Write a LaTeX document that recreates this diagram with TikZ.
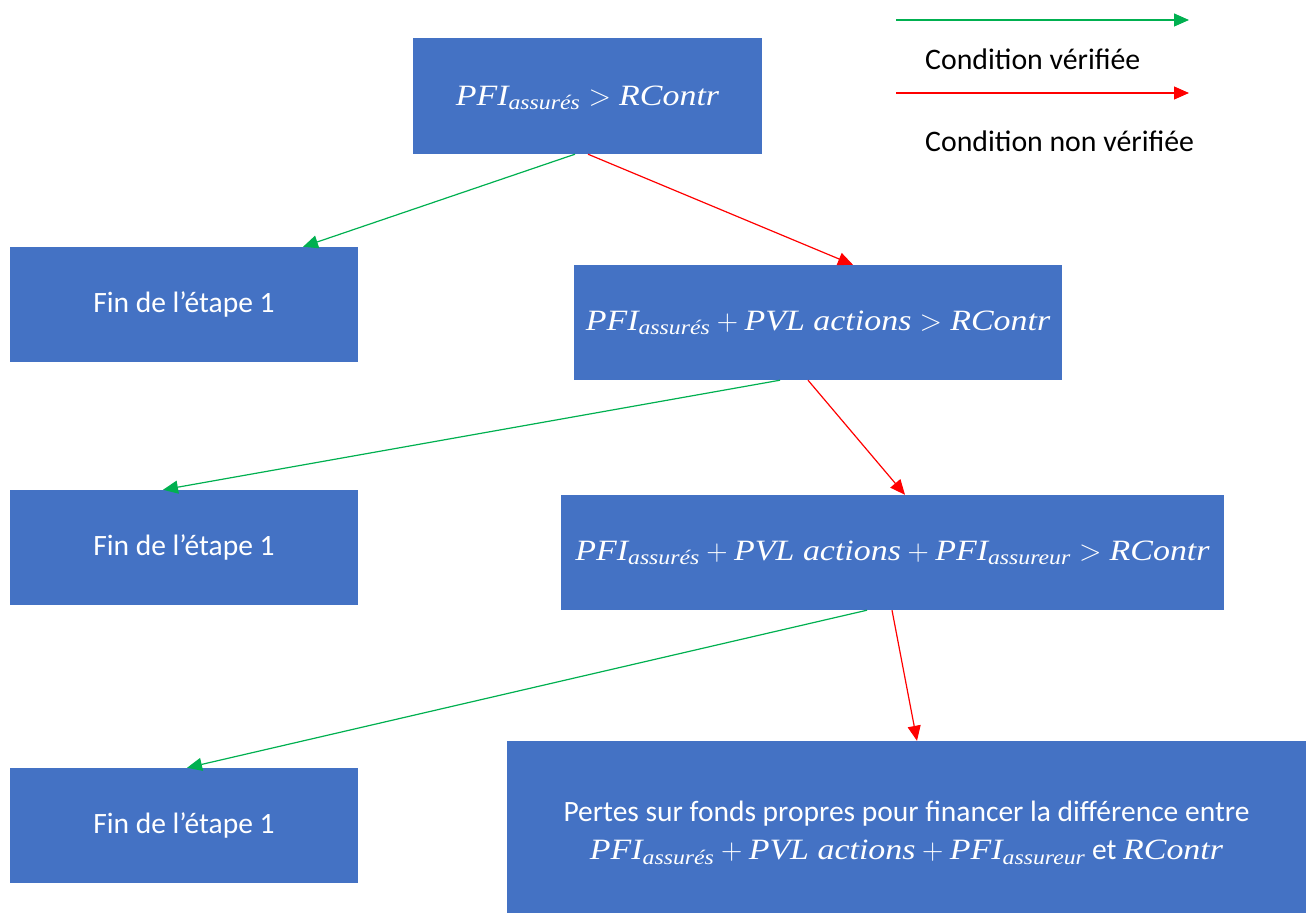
\documentclass[tikz,border=0pt]{standalone}
\usepackage{fix-cm}
\usepackage{amsmath}
\usepackage{fontspec}
\setmainfont{Carlito}
\newfontfamily\formulafont[FakeStretch=1.15]{Liberation Serif}
\usetikzlibrary{arrows.meta}
\definecolor{boxblue}{HTML}{4472C4}
\definecolor{okgreen}{HTML}{00B050}
\definecolor{nored}{HTML}{FF0000}
\tikzset{
  stepbox/.style={fill=boxblue, draw=none, text=white, inner sep=0pt, font=\fontsize{29.5}{37}\selectfont, align=center},
  % baseline sits #1/2 below the box centre
  formulabox/.style={stepbox, text height=#1, text depth=0pt},
  steptext/.style={text=white, inner sep=0pt, font=\fontsize{29.5}{37}\selectfont, align=center},
  yes/.style={draw=okgreen, line width=1.2pt, -{Triangle[length=15pt,width=13pt]}},
  no/.style={draw=nored, line width=1.2pt, -{Triangle[length=15pt,width=13pt]}},
  legendtxt/.style={anchor=west, inner sep=0pt, font=\fontsize{29.8}{36}\selectfont}
}
% italic serif variables inside formulas
\newcommand{\fv}[1]{\text{\formulafont\itshape #1}}
\newcommand{\PFIs}{\fv{PFI}_{\fv{assurés}}}
\newcommand{\PFIr}{\fv{PFI}_{\fv{assureur}}}
\newcommand{\PVLa}{\fv{PVL actions}}
\newcommand{\RC}{\fv{RContr}}
\begin{document}
\begin{tikzpicture}[x=1pt,y=-1pt]
\useasboundingbox (0,0) rectangle (1312,915);
% decision boxes
\node[formulabox=19pt, minimum width=349pt, minimum height=116pt] (c1) at (587.5,96) {$\PFIs > \RC$};
\node[formulabox=15pt, minimum width=488pt, minimum height=115pt] (c2) at (818,322.5) {$\PFIs + \PVLa > \RC$};
\node[formulabox=15pt, minimum width=663pt, minimum height=115pt] (c3) at (892.5,552.5) {$\PFIs + \PVLa + \PFIr > \RC$};
\node[stepbox, minimum width=799pt, minimum height=172pt] (c4) at (906.5,827) {};
\node[steptext] (t4) at ([yshift=-6pt]c4.center) {Pertes sur fonds propres pour financer la différence entre\\[1pt] $\PFIs + \PVLa + \PFIr$ et $\RC$};
% end-of-step boxes
\node[stepbox, minimum width=348pt, minimum height=115pt] (f1) at (184,304.5) {Fin de l’étape 1};
\node[stepbox, minimum width=348pt, minimum height=115pt] (f2) at (184,547.5) {Fin de l’étape 1};
\node[stepbox, minimum width=348pt, minimum height=115pt] (f3) at (184,825.5) {Fin de l’étape 1};
% connectors
\draw[yes] (c1.south -| 575,0) -- (f1.north -| 303,0);
\draw[no]  (c1.south -| 588,0) -- (c2.north -| 853,0);
\draw[yes] (c2.south -| 780,0) -- (f2.north -| 163,0);
\draw[no]  (c2.south -| 808,0) -- (c3.north -| 905,0);
\draw[yes] (c3.south -| 867,0) -- (f3.north -| 187,0);
\draw[no]  (c3.south -| 892,0) -- (c4.north -| 917,0);
% legend
\coordinate (g0) at (896,20); \coordinate (g1) at (1189,20);
\coordinate (r0) at (896,93); \coordinate (r1) at (1189,93);
\draw[yes] (g0) -- (g1);
\draw[no] (r0) -- (r1);
\node[legendtxt] (lg) at (925,59) {Condition vérifiée};
\node[legendtxt] (lr) at (925,141) {Condition non vérifiée};
\end{tikzpicture}
\end{document}
